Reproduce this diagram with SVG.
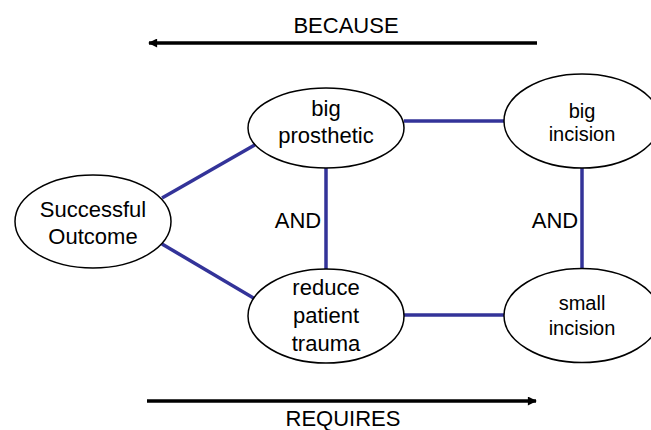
<svg xmlns="http://www.w3.org/2000/svg" width="651" height="430" viewBox="0 0 651 430">
<defs>
<style>
.node ellipse{fill:#fff;stroke:#000;stroke-width:1.5}
text{font-family:"Liberation Sans",Arial,sans-serif;fill:#000;text-anchor:middle}
.t{font-size:22px}
.s{font-size:20px}
.c line{stroke:#333399;stroke-width:3.5}
.arr{stroke:#000;stroke-width:3.5}
</style>
<marker id="ah" viewBox="0 0 10 10" refX="9" refY="5" markerWidth="10" markerHeight="9" markerUnits="userSpaceOnUse" orient="auto">
<path d="M0,0 L10,5 L0,10 Z" fill="#000"/>
</marker>
</defs>
<rect width="651" height="430" fill="#fff"/>
<g id="because">
<text class="t" x="346" y="33">BECAUSE</text>
<line class="arr" x1="537" y1="43" x2="149" y2="43" marker-end="url(#ah)"/>
</g>
<g id="requires">
<line class="arr" x1="147" y1="401" x2="536" y2="401" marker-end="url(#ah)"/>
<text class="t" x="343" y="426">REQUIRES</text>
</g>
<g id="connectors" class="c">
<line x1="162" y1="198" x2="258" y2="143"/>
<line x1="162" y1="244" x2="257" y2="300"/>
<line x1="326" y1="167" x2="326" y2="269"/>
<line x1="404" y1="121" x2="504" y2="121"/>
<line x1="404" y1="315" x2="504" y2="315"/>
<line x1="582" y1="168" x2="582" y2="269"/>
<text class="t" x="298" y="228">AND</text>
<text class="t" x="555" y="228">AND</text>
</g>
<g id="successful-outcome" class="node">
<ellipse cx="93" cy="221.5" rx="78" ry="46.5"/>
<text class="t" x="93" y="217">Successful</text>
<text class="t" x="93" y="244">Outcome</text>
</g>
<g id="big-prosthetic" class="node">
<ellipse cx="326" cy="128" rx="78" ry="40"/>
<text class="t" x="326" y="116">big</text>
<text class="t" x="326" y="143">prosthetic</text>
</g>
<g id="reduce-patient-trauma" class="node">
<ellipse cx="326" cy="316" rx="78" ry="47"/>
<text class="t" x="326" y="295">reduce</text>
<text class="t" x="326" y="323">patient</text>
<text class="t" x="326" y="351">trauma</text>
</g>
<g id="big-incision" class="node">
<ellipse cx="582" cy="121" rx="78" ry="47"/>
<text class="s" x="582" y="118">big</text>
<text class="s" x="582" y="141">incision</text>
</g>
<g id="small-incision" class="node">
<ellipse cx="582" cy="315.5" rx="78" ry="47"/>
<text class="s" x="582" y="310">small</text>
<text class="s" x="582" y="335">incision</text>
</g>
</svg>
